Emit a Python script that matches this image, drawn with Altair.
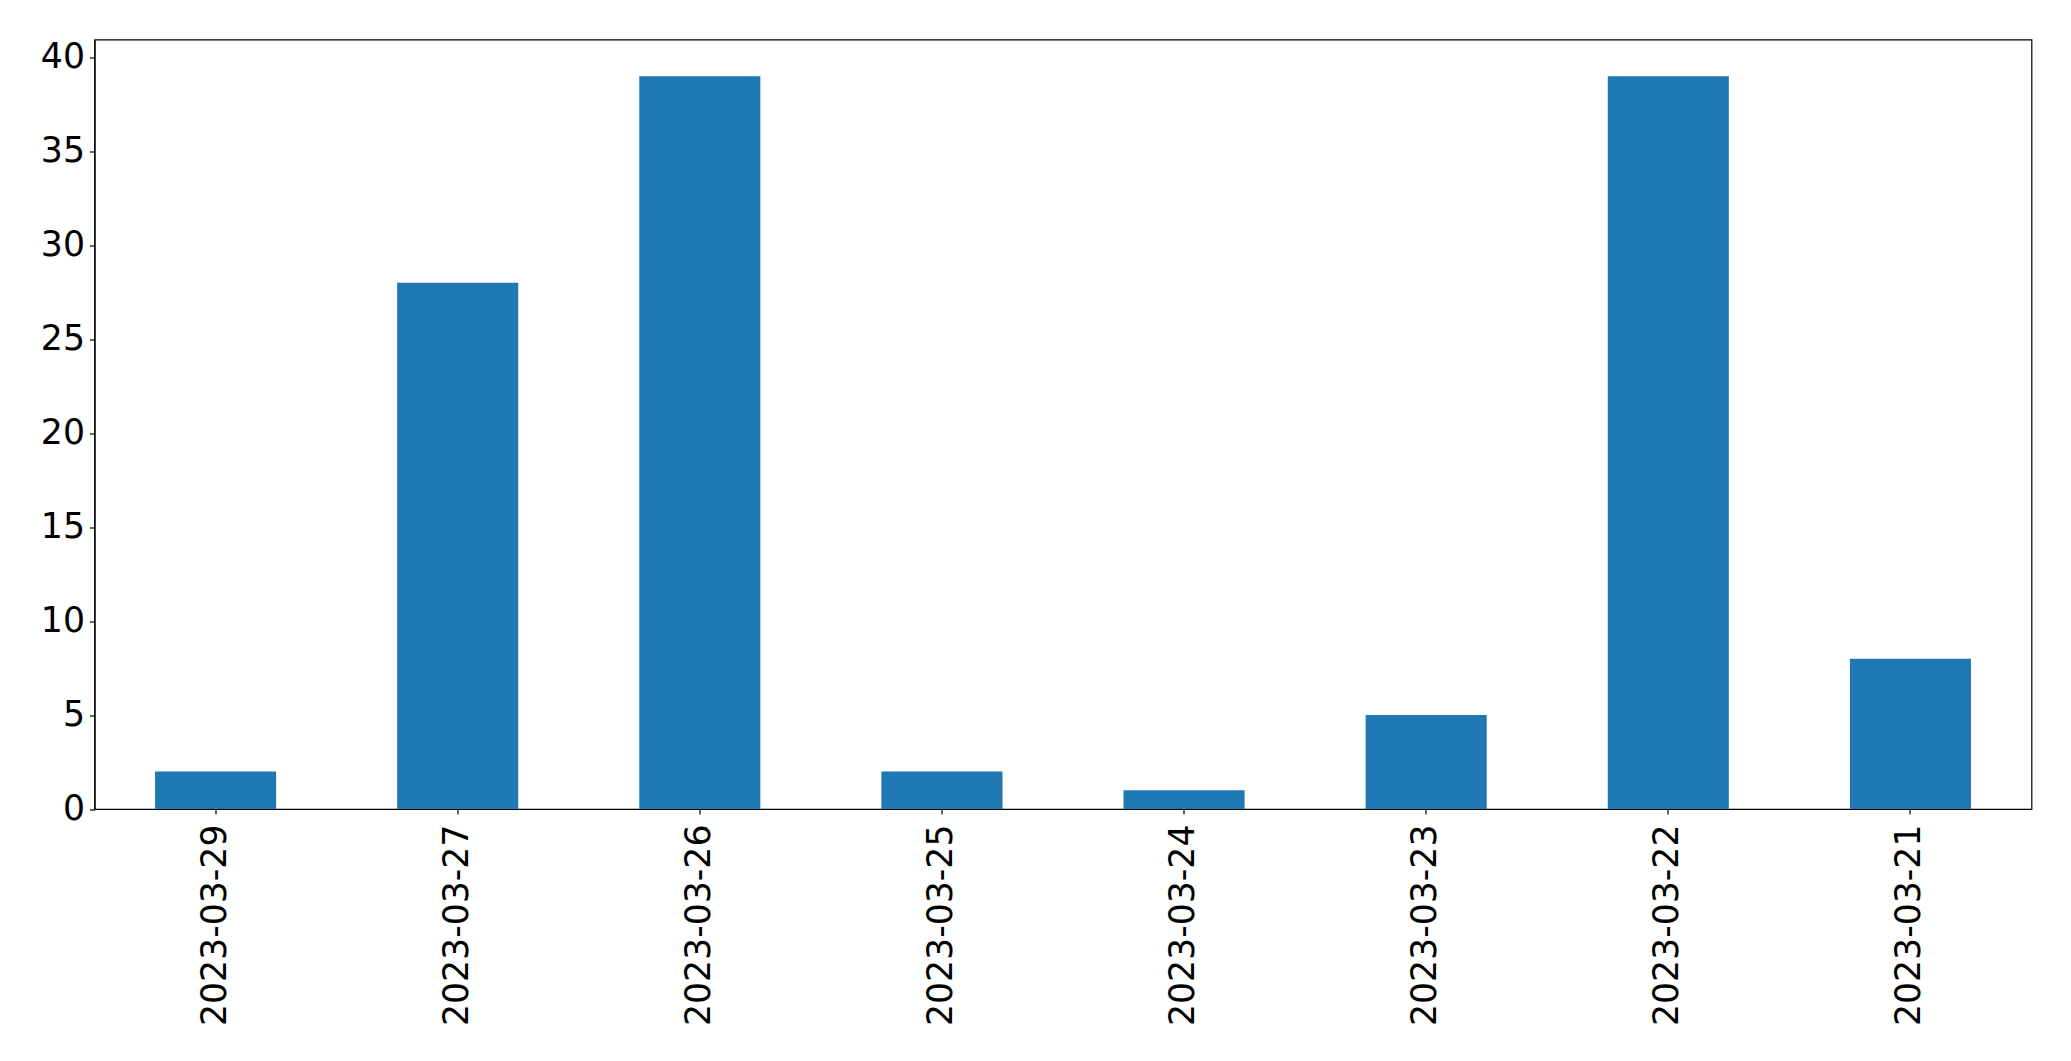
import altair as alt
import pandas as pd

dates = ["2023-03-29", "2023-03-27", "2023-03-26", "2023-03-25",
         "2023-03-24", "2023-03-23", "2023-03-22", "2023-03-21"]
counts = [2, 28, 39, 2, 1, 5, 39, 8]
y_ticks = [0, 5, 10, 15, 20, 25, 30, 35, 40]

df = pd.DataFrame({"date": dates, "count": counts})

FONT = "DejaVu Sans"
FS = 34.7

chart = alt.Chart(df).mark_bar(color="#1f77b4").encode(
    x=alt.X("date:N", sort=dates, title=None,
            scale=alt.Scale(paddingInner=0.5, paddingOuter=0.25),
            axis=alt.Axis(labelAngle=270, labelAlign="right", labelBaseline="middle",
                          labelFont=FONT, labelFontSize=FS, labelColor="black",
                          labelLimit=0,
                          tickColor="black", tickSize=5, tickWidth=1.2,
                          domainColor="black", domainWidth=1.2, labelPadding=10,
                          grid=False)),
    y=alt.Y("count:Q", title=None,
            scale=alt.Scale(domain=[0, 40.95], nice=False, zero=True),
            axis=alt.Axis(values=y_ticks, labelFont=FONT, labelFontSize=FS,
                          labelColor="black", tickColor="black", tickSize=5,
                          tickWidth=1.2, domainColor="black", domainWidth=1.2,
                          labelPadding=5, grid=False)),
).properties(
    width=1937, height=769.5,
    autosize=alt.AutoSizeParams(type="none"),
    padding={"left": 86.5, "top": 31.5, "right": 30, "bottom": 240},
).configure_view(
    stroke="black", strokeWidth=1.2
)

chart.save("out.html", embed_options={"renderer": "svg", "actions": False})
